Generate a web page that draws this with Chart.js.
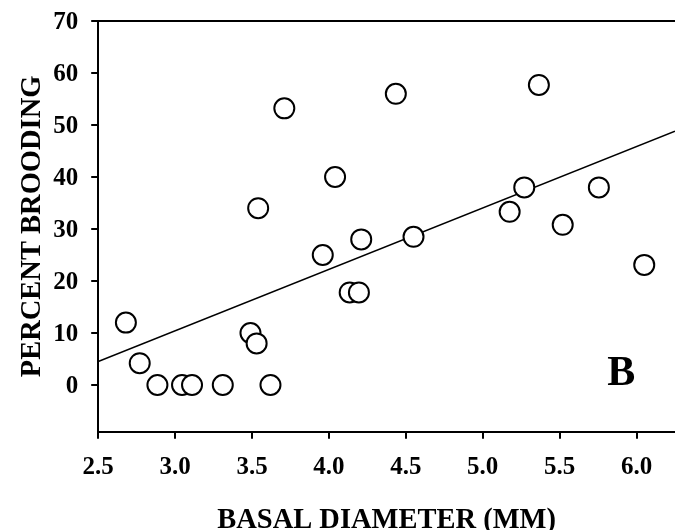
<!DOCTYPE html>
<html>
<head>
<meta charset="utf-8">
<script src="https://cdn.jsdelivr.net/npm/chart.js@4"></script>
<style>
  html, body { margin: 0; padding: 0; background: #fff; }
  #wrap { width: 675px; height: 530px; position: relative; }
</style>
</head>
<body>
<div id="wrap"><canvas id="c" width="675" height="530"></canvas></div>
<script>
// ---- data ----
const basalDiameter = [2.68, 2.77, 2.885, 3.045, 3.11, 3.31, 3.49, 3.53, 3.62, 3.54, 3.71, 3.96,
                       4.04, 4.135, 4.195, 4.21, 4.435, 4.55, 5.175, 5.27, 5.365, 5.52, 5.755, 6.05];
const percentBrooding = [12, 4.2, 0, 0, 0, 0, 10, 8, 0, 34, 53.2, 25,
                         40, 17.8, 17.8, 28, 56, 28.5, 33.3, 38, 57.7, 30.8, 38, 23.1];
const fitX = [2.5, 6.25];
const fitY = [4.5, 48.8];
const xTitle = 'BASAL DIAMETER (MM)';
const yTitle = 'PERCENT BROODING';
const panelLabel = 'B';
const panelLabelAt = [5.9, 2.1];

const FONT = '"Liberation Serif", "Times New Roman", serif';
Chart.defaults.font.family = FONT;
Chart.defaults.color = '#000';

const pts = basalDiameter.map((x, i) => ({ x, y: percentBrooding[i] }));
const fit = fitX.map((x, i) => ({ x, y: fitY[i] }));

const frame = {
  id: 'frame',
  afterDatasetsDraw(chart) {
    const { ctx, chartArea } = chart;
    ctx.save();
    ctx.strokeStyle = '#000';
    ctx.lineWidth = 2;
    ctx.beginPath();
    ctx.moveTo(chartArea.left - 1, chartArea.top);
    ctx.lineTo(chartArea.right, chartArea.top);
    ctx.stroke();
    const px = chart.scales.x.getPixelForValue(panelLabelAt[0]);
    const py = chart.scales.y.getPixelForValue(panelLabelAt[1]);
    ctx.fillStyle = '#000';
    ctx.font = 'bold 42px ' + FONT;
    ctx.textAlign = 'center';
    ctx.textBaseline = 'middle';
    ctx.fillText(panelLabel, px, py);
    ctx.restore();
  }
};

new Chart(document.getElementById('c'), {
  type: 'scatter',
  data: {
    datasets: [
      {
        data: pts,
        pointRadius: 10,
        pointHoverRadius: 10,
        pointBorderWidth: 2,
        pointBorderColor: '#000',
        pointBackgroundColor: '#fff',
        showLine: false,
        clip: false
      },
      {
        type: 'line',
        data: fit,
        borderColor: '#000',
        borderWidth: 1.5,
        pointRadius: 0,
        fill: false
      }
    ]
  },
  options: {
    responsive: false,
    animation: false,
    events: [],
    layout: { autoPadding: false, padding: { top: 21, left: 0, right: 0, bottom: -8 } },
    plugins: { legend: { display: false }, tooltip: { enabled: false } },
    scales: {
      x: {
        type: 'linear',
        min: 2.5,
        max: 6.25,
        border: { color: '#000', width: 2 },
        grid: { display: true, drawOnChartArea: false, drawTicks: true, tickLength: 7, color: '#000', lineWidth: 2 },
        ticks: {
          stepSize: 0.5,
          includeBounds: false,
          padding: 14,
          font: { size: 25, weight: 'bold' },
          color: '#000',
          callback: v => Number(v).toFixed(1)
        },
        title: {
          display: true,
          text: xTitle,
          font: { size: 28.5, weight: 'bold' },
          color: '#000',
          padding: { top: 7, bottom: 0 }
        }
      },
      y: {
        type: 'linear',
        min: -9,
        max: 70,
        border: { color: '#000', width: 2 },
        grid: { display: true, drawOnChartArea: false, drawTicks: true, tickLength: 7, color: '#000', lineWidth: 2 },
        ticks: {
          stepSize: 10,
          includeBounds: false,
          padding: 13,
          labelOffset: 1.5,
          font: { size: 25, weight: 'bold', lineHeight: 0.5 },
          color: '#000'
        },
        title: {
          display: true,
          text: yTitle,
          font: { size: 28.5, weight: 'bold' },
          color: '#000',
          padding: { top: 16, bottom: -10 }
        }
      }
    }
  },
  plugins: [frame]
});
</script>
</body>
</html>
